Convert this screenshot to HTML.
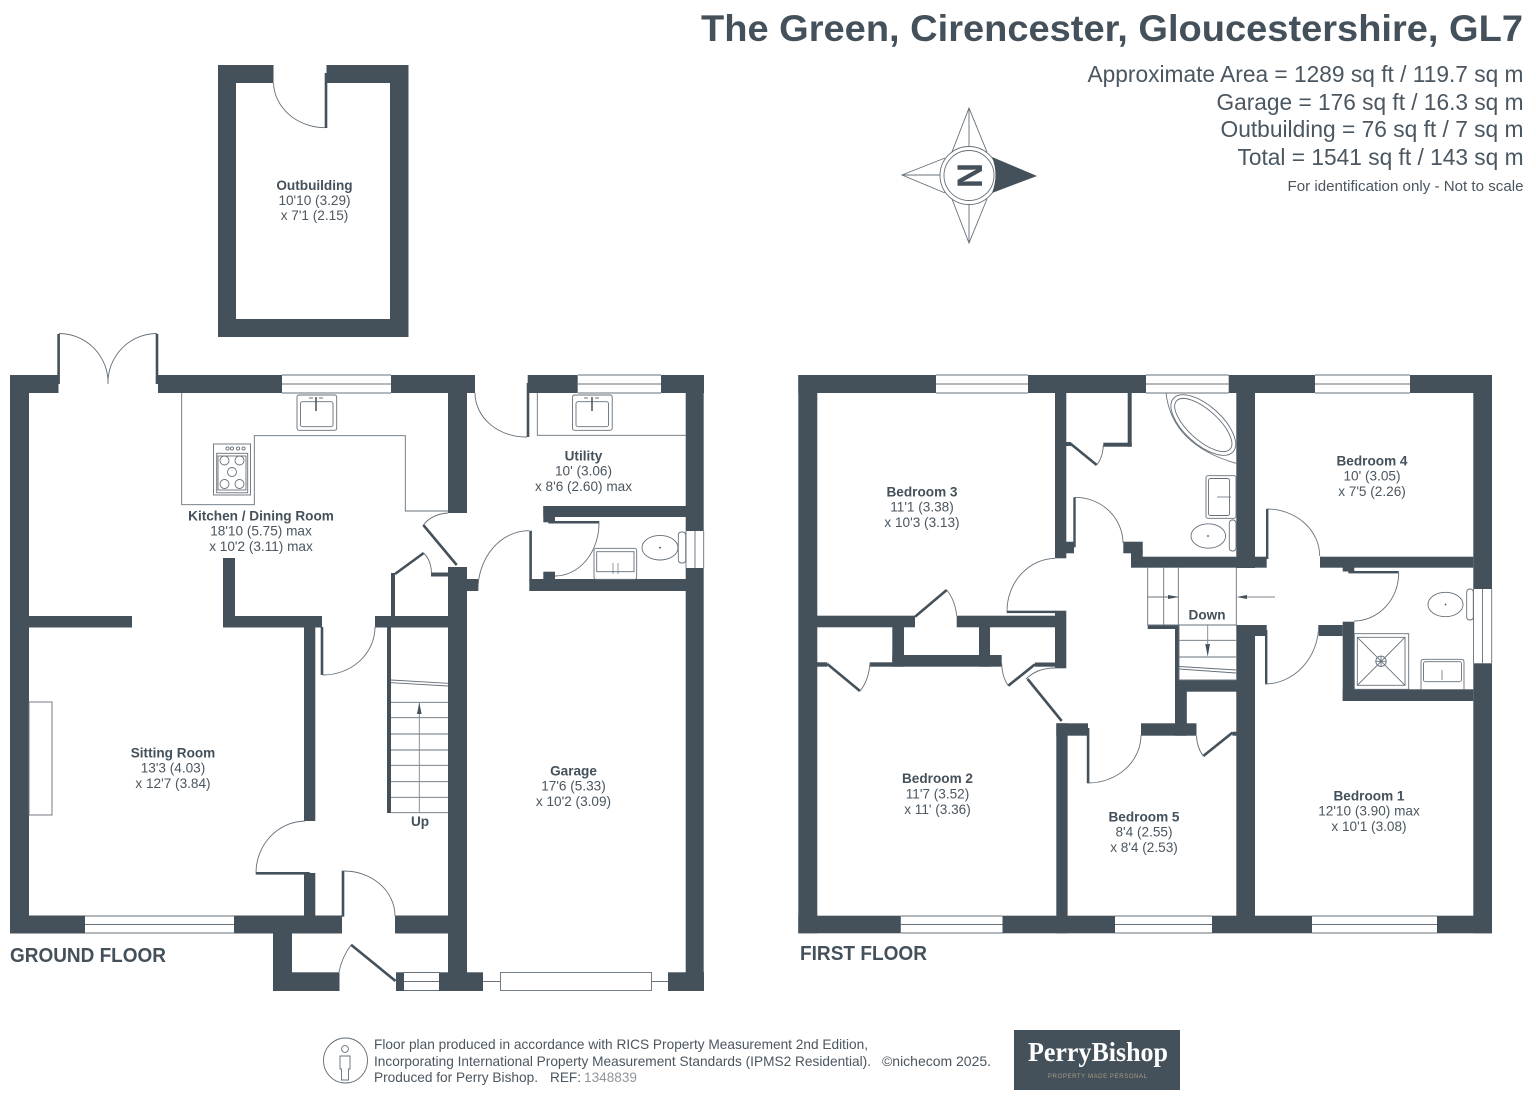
<!DOCTYPE html>
<html><head><meta charset="utf-8"><style>
html,body{margin:0;padding:0;background:#fff}
svg{display:block}
text{font-family:"Liberation Sans",sans-serif;fill:#4a5660}
.w rect{fill:#44515b}
.t{fill:none;stroke:#66707a;stroke-width:.9}
.l{fill:none;stroke:#44515b;stroke-width:2.6}
.a{fill:none;stroke:#7d858c;stroke-width:.9}
.n text{text-anchor:middle;font-size:13.6px}
.n .b{font-weight:bold;fill:#44515b}
</style></head><body>
<svg width="1536" height="1104" viewBox="0 0 1536 1104" xmlns="http://www.w3.org/2000/svg">
<rect width="1536" height="1104" fill="#fff"/>

<!-- header -->
<text x="1523" y="41" text-anchor="end" font-size="37" font-weight="bold" textLength="822" lengthAdjust="spacingAndGlyphs" style="fill:#44515b">The Green, Cirencester, Gloucestershire, GL7</text>
<g font-size="23" text-anchor="end">
<text x="1523.5" y="82" textLength="436" lengthAdjust="spacingAndGlyphs">Approximate Area = 1289 sq ft / 119.7 sq m</text>
<text x="1523.5" y="110" textLength="307" lengthAdjust="spacingAndGlyphs">Garage = 176 sq ft / 16.3 sq m</text>
<text x="1523.5" y="137" textLength="303" lengthAdjust="spacingAndGlyphs">Outbuilding = 76 sq ft / 7 sq m</text>
<text x="1523.5" y="165" textLength="286" lengthAdjust="spacingAndGlyphs">Total = 1541 sq ft / 143 sq m</text>
</g>
<text x="1523.5" y="191" text-anchor="end" font-size="14.5" textLength="236" lengthAdjust="spacingAndGlyphs">For identification only - Not to scale</text>

<!-- compass -->
<g class="t">
<path d="M952 152 969 108 987 152M952 199 969 243 987 199M945 158 902 175 945 193M969 108V146M969 205V243M902 175H940"/>
<circle cx="969" cy="175.5" r="29"/><circle cx="969" cy="175.5" r="25"/>
</g>
<path d="M992 157 1037 176 992 193Q999 175 992 157Z" fill="#44515b"/>
<text transform="translate(957.5 175.5) rotate(90)" x="0" y="0" text-anchor="middle" font-size="35" font-weight="bold" style="fill:#44515b">N</text>

<!-- outbuilding -->
<g class="w">
<rect x="218" y="65" width="18" height="272"/><rect x="390" y="65" width="18.5" height="272"/>
<rect x="218" y="319" width="190" height="18"/><rect x="218" y="65" width="55.5" height="18"/><rect x="326.5" y="65" width="82" height="18"/>
<rect x="324.7" y="73" width="2.6" height="55"/>
</g>
<path class="t" d="M273.5 83A52 46 0 0 0 325 127.7"/>

<!-- ground floor walls -->
<g class="w">
<rect x="10" y="375" width="48.5" height="18"/><rect x="10" y="375" width="19" height="558"/>
<rect x="10" y="915.5" width="75" height="18"/><rect x="234" y="915.5" width="108" height="18"/><rect x="395" y="915.5" width="53" height="18"/>
<rect x="158" y="375" width="124" height="18"/><rect x="391" y="375" width="84" height="18"/>
<rect x="448" y="375" width="19" height="138"/><rect x="448" y="567" width="19" height="424"/>
<rect x="29" y="616" width="103" height="11.5"/><rect x="223" y="616" width="99" height="11.5"/><rect x="223" y="558" width="12" height="69"/>
<rect x="304" y="616" width="11.3" height="205"/><rect x="304" y="873" width="11.3" height="43"/>
<rect x="375" y="616" width="73" height="11.5"/>
<rect x="391" y="573" width="4" height="43"/><rect x="431" y="572.5" width="17" height="4"/><rect x="387" y="627" width="4" height="186"/>
<rect x="273" y="933" width="19" height="58"/><rect x="273" y="972.3" width="66.5" height="18.7"/>
<rect x="396" y="972.3" width="8" height="18.7"/><rect x="439" y="972.3" width="44" height="18.7"/>
<rect x="668" y="972.3" width="36" height="18.7"/><rect x="685.7" y="375" width="18" height="156"/><rect x="685.7" y="568" width="18" height="423"/>
<rect x="527.7" y="375" width="50" height="18"/><rect x="661" y="375" width="43" height="18"/>
<rect x="543.3" y="506" width="143" height="11"/><rect x="543.3" y="506" width="11.7" height="16.3"/><rect x="543.3" y="571.7" width="11.7" height="10"/>
<rect x="529.3" y="579" width="157" height="12"/><rect x="466.7" y="579" width="11.6" height="12"/>
<!-- door leaves -->
<rect x="57.3" y="334" width="2.6" height="50"/><rect x="155.7" y="334" width="2.6" height="50"/>
<rect x="255.7" y="872" width="54" height="2.6"/><rect x="341.7" y="870.7" width="2.6" height="46"/>
<rect x="320.7" y="627" width="2.6" height="48"/><rect x="526.7" y="383" width="2.6" height="54"/>
<rect x="529.3" y="530.7" width="2.6" height="50"/><rect x="548.3" y="521" width="51" height="2.5"/>
</g>
<g class="l"><path d="M423.3 525 456.7 565M395 574 423.7 553M351 944.7 395.5 981"/></g>
<g class="t">
<path d="M59 333.5A49 49 0 0 1 108 384M157 333.5A49 49 0 0 0 108 384"/>
<path d="M448 513Q432 514 423.3 525M423.7 553Q431 560 431.5 573"/>
<path d="M256 873A50 52 0 0 1 305 821M344 871A51 45 0 0 1 395 916M339 972Q342 957 351 945"/>
<path d="M323 675A52 48 0 0 0 375 627M475 393A51 44 0 0 0 527 437M529 530.7A51 59 0 0 0 478 590M599 523A44 53 0 0 1 555 576"/>
<!-- windows -->
<path d="M282 375H391M282 384H391M282 393H391M578 375H661M578 384H661M578 393H661"/>
<path d="M85 916H234M85 924.5H234M85 933H234"/>
<path d="M404 972.5H439M404 981.5H439M404 990.5H439M483 981.5H500M651.5 981.5H668"/>
<rect x="500.5" y="972.5" width="151" height="18"/>
<path d="M686 531V568M695 531V568M703.7 531V568"/>
<!-- counters -->
<path d="M181.7 393V504.7H254.3V435.7H405.3V511H448M537.3 393V435.3H685.7"/>
<rect x="29" y="702" width="23" height="113"/>
<!-- stairs -->
<path d="M391 702.3H448M391 717.7H448M391 734H448M391 750H448M391 765.3H448M391 781.7H448M391 797.3H448M391 812.7H448M391 680 448 683.3M391 682.7 448 686"/>
<!-- sink, cooker -->
<rect x="297" y="395" width="39.7" height="35.3" rx="2"/><rect x="300.5" y="401.7" width="32.5" height="25" rx="2"/>
<rect x="572.5" y="395" width="39.7" height="35.3" rx="2"/><rect x="576" y="401.7" width="32.5" height="25" rx="2"/>
<rect x="213.5" y="444" width="37" height="51"/><rect x="216.7" y="453.3" width="31" height="39.5"/><rect x="218" y="456" width="28" height="34"/>
<circle cx="224.5" cy="460.5" r="4.5"/><circle cx="239.5" cy="460.5" r="4.5"/><circle cx="232" cy="472" r="4.5"/><circle cx="224.5" cy="484" r="4.5"/><circle cx="239.5" cy="484" r="4.5"/>
<circle cx="227.5" cy="448.5" r="1.6"/><circle cx="232" cy="448.5" r="1.6"/><circle cx="238" cy="448.5" r="1.6"/><circle cx="243.5" cy="448.5" r="1.6"/>
<!-- wc -->
<ellipse cx="660" cy="547.7" rx="18" ry="12.3"/><rect x="678.3" y="532" width="7.4" height="31" rx="3"/>
<rect x="594" y="548.3" width="42.7" height="31" rx="2"/><rect x="596.7" y="551.7" width="37.3" height="20"/>
<path d="M613 563V574M618 563V574" stroke-width=".7"/>
</g>
<path d="M316 397V411M592 397V411" stroke="#44515b" stroke-width="1.5"/>
<path d="M309 398H313M319 398H323M584 398H588M595 398H599" stroke="#66707a" stroke-width="1"/>
<path d="M419.3 812.7V703" class="a"/>
<path d="M419.3 702.5 417 714H421.6Z" fill="#44515b"/>

<!-- first floor walls -->
<g class="w">
<rect x="798.3" y="375" width="137.7" height="18"/><rect x="1028" y="375" width="118" height="18"/><rect x="1228.7" y="375" width="86.3" height="18"/><rect x="1410" y="375" width="82" height="18"/>
<rect x="798.3" y="375" width="19" height="558.3"/><rect x="1473.3" y="375" width="18.7" height="214"/><rect x="1473.3" y="663.3" width="18.7" height="270"/>
<rect x="798.3" y="915.7" width="102.5" height="17.6"/><rect x="1002.5" y="915.7" width="112.5" height="17.6"/><rect x="1212" y="915.7" width="100" height="17.6"/><rect x="1437" y="915.7" width="55" height="17.6"/>
<rect x="1055" y="375" width="11.3" height="183.3"/><rect x="1066" y="541.7" width="8" height="11.6"/>
<rect x="1123.3" y="541.7" width="19.4" height="11.6"/><rect x="1131" y="550" width="11.7" height="8"/>
<rect x="1131" y="556.7" width="135.7" height="11"/><rect x="1236.3" y="375" width="18.7" height="193"/>
<rect x="1320" y="556.7" width="153.3" height="11"/><rect x="1342.7" y="567" width="11.6" height="4.5"/>
<rect x="1147.7" y="625" width="31" height="4"/><rect x="1175" y="625" width="4" height="66"/><rect x="1175" y="680" width="11.7" height="55.7"/>
<rect x="1175" y="680" width="65" height="11.7"/><rect x="1236.3" y="625" width="18.7" height="308"/>
<rect x="1255" y="625" width="11.7" height="11"/><rect x="1318.7" y="625" width="24" height="11"/>
<rect x="1342.7" y="621.7" width="11.6" height="79.3"/><rect x="1342.7" y="689.3" width="130.6" height="11.7"/>
<rect x="817" y="615.7" width="98" height="11.6"/><rect x="956.7" y="615.7" width="109.3" height="11.6"/>
<rect x="1055" y="610.7" width="11.3" height="57.6"/><rect x="892.3" y="627" width="11.7" height="39.7"/><rect x="892.3" y="655" width="109.4" height="11.7"/><rect x="979" y="627" width="11" height="39.7"/>
<rect x="817" y="662.3" width="10.3" height="4.4"/><rect x="870" y="662.3" width="23.3" height="4.4"/><rect x="1035" y="662.5" width="20" height="4.2"/>
<rect x="1056.3" y="723.3" width="11.3" height="210"/><rect x="1056.3" y="723.3" width="31.7" height="12.4"/><rect x="1141" y="723.3" width="55.5" height="12.4"/>
<rect x="1175" y="691" width="11.7" height="40"/><rect x="1232.4" y="731.7" width="5" height="4"/>
<rect x="1127.7" y="393" width="4" height="53.7"/><rect x="1103.3" y="442.7" width="28.4" height="4"/><rect x="1066" y="442" width="5" height="4"/>
<!-- leaves -->
<rect x="1006.7" y="610.7" width="50" height="2.4"/><rect x="1073.3" y="497.3" width="2.4" height="50"/>
<rect x="1086.8" y="728" width="2.6" height="55.3"/><rect x="1266" y="509" width="2.4" height="50"/><rect x="1265" y="630" width="2.4" height="54.3"/><rect x="1348.3" y="571" width="50.4" height="2.4"/>
</g>
<g class="l"><path d="M915 616.7 946.7 590M827.3 664 860 691M1008.3 685.7 1035 664.3M1027.6 679 1061.7 721M1232.4 732.7 1203.3 756M1070 443.3 1096.7 465"/></g>
<g class="t">
<path d="M946.7 590Q955 600 956.7 615.7M860 691Q869 680 870 662.7M1001.7 663.3Q1002 677 1008.3 685.7M1055 668Q1037 668 1026 679M1196.5 735.7Q1197 748 1203.3 756M1096.7 465Q1103 457 1103.3 445"/>
<path d="M1007 611A49 53 0 0 1 1055 558.3M1075 497.3A48 46 0 0 1 1123 543M1088 783A53 48 0 0 0 1141 735M1267 509A53 47 0 0 1 1319.7 556M1265 684A54 59 0 0 0 1318.7 625M1398.7 573A45 48 0 0 1 1354 621"/>
<!-- windows -->
<path d="M936 375H1028M936 384H1028M936 393H1028M1146 375H1228.7M1146 384H1228.7M1146 393H1228.7M1315 375H1410M1315 384H1410M1315 393H1410"/>
<path d="M901 916H1002.5M901 924.5H1002.5M901 933H1002.5M1115 916H1212M1115 924.5H1212M1115 933H1212M1312 916H1437M1312 924.5H1437M1312 933H1437"/>
<path d="M1473.5 589V663.3M1482.5 589V663.3M1491.7 589V663.3"/>
<!-- stairs -->
<path d="M1147.7 567.7V625H1236.3V567.7M1163.7 567.7V625M1178.3 567.7V625M1147.7 597H1178M1179 625V680H1236M1179 640.3H1236M1179 657H1236M1179 666.5 1236 670M1179 669 1236 673"/>
<!-- bath -->
<path d="M1166 393Q1172 445 1236 463.3"/>
<ellipse cx="1203.3" cy="425" rx="40" ry="19" transform="rotate(42 1203.3 425)"/>
<ellipse cx="1203.3" cy="425" rx="36" ry="15" transform="rotate(42 1203.3 425)"/>
<rect x="1206" y="475.7" width="30" height="42.6" rx="2"/><rect x="1208.5" y="478.5" width="21" height="37" rx="2"/>
<path d="M1217 497H1231" stroke-width=".8"/>
<ellipse cx="1208.3" cy="536" rx="17.3" ry="12.2"/><rect x="1229.3" y="520" width="6.7" height="31" rx="3"/>
<!-- ensuite -->
<ellipse cx="1445.5" cy="604.5" rx="17.5" ry="12.2"/><rect x="1466.7" y="589" width="6.6" height="31" rx="3"/>
<rect x="1354.3" y="633.7" width="54.4" height="55.6"/><rect x="1357.3" y="637.3" width="47.7" height="48"/>
<path d="M1357.3 637.3 1405 685.3M1405 637.3 1357.3 685.3"/><circle cx="1381" cy="661.3" r="5.2"/>
<path d="M1381 656V666.5M1376 661.3H1386"/>
<path d="M1421 689.3V662q0-2.7 2.7-2.7h37.6q2.7 0 2.7 2.7V689.3"/><rect x="1423.5" y="661.7" width="38" height="20" rx="2"/>
<path d="M1442 670V680" stroke-width=".8"/>
</g>
<g fill="#44515b">
<path d="M1179 597 1168 595V599ZM1236.7 597 1247 595V599ZM1207.7 656.7 1205.3 644H1210Z"/>
<circle cx="1208" cy="536" r=".9"/><circle cx="1445.5" cy="604.5" r=".9"/><circle cx="660" cy="547.7" r=".9"/>
</g>
<path d="M1247 597H1275M1207.7 625V645" class="a"/>

<!-- labels -->
<g class="n">
<text class="b" x="314.5" y="190">Outbuilding</text><text x="314.5" y="205">10'10 (3.29)</text><text x="314.5" y="220">x 7'1 (2.15)</text>
<text class="b" x="261" y="520.5">Kitchen / Dining Room</text><text x="261" y="535.5">18'10 (5.75) max</text><text x="261" y="551">x 10'2 (3.11) max</text>
<text class="b" x="173" y="757.5">Sitting Room</text><text x="173" y="772.5">13'3 (4.03)</text><text x="173" y="788">x 12'7 (3.84)</text>
<text class="b" x="583.5" y="460.5">Utility</text><text x="583.5" y="475.5">10' (3.06)</text><text x="583.5" y="491">x 8'6 (2.60) max</text>
<text class="b" x="573.5" y="775.5">Garage</text><text x="573.5" y="790.5">17'6 (5.33)</text><text x="573.5" y="806">x 10'2 (3.09)</text>
<text class="b" x="922" y="496.5">Bedroom 3</text><text x="922" y="511.5">11'1 (3.38)</text><text x="922" y="527">x 10'3 (3.13)</text>
<text class="b" x="1372" y="465.5">Bedroom 4</text><text x="1372" y="480.5">10' (3.05)</text><text x="1372" y="496">x 7'5 (2.26)</text>
<text class="b" x="937.5" y="783">Bedroom 2</text><text x="937.5" y="798.5">11'7 (3.52)</text><text x="937.5" y="814">x 11' (3.36)</text>
<text class="b" x="1144" y="821.5">Bedroom 5</text><text x="1144" y="836.5">8'4 (2.55)</text><text x="1144" y="852">x 8'4 (2.53)</text>
<text class="b" x="1369" y="800.5">Bedroom 1</text><text x="1369" y="815.5">12'10 (3.90) max</text><text x="1369" y="831">x 10'1 (3.08)</text>
<text class="b" x="420" y="826">Up</text><text class="b" x="1207" y="619.5">Down</text>
</g>
<text x="10" y="962" font-size="20" font-weight="bold" textLength="156" lengthAdjust="spacingAndGlyphs" style="fill:#44515b">GROUND FLOOR</text>
<text x="800" y="960" font-size="20" font-weight="bold" textLength="127" lengthAdjust="spacingAndGlyphs" style="fill:#44515b">FIRST FLOOR</text>

<!-- footer -->
<g class="t"><ellipse cx="345.5" cy="1060.5" rx="22" ry="22.5"/><circle cx="345" cy="1049" r="3.4"/><path d="M340 1056h10v13h-1.5v11h-7v-11H340z"/></g>
<g font-size="14">
<text x="374" y="1049" textLength="494" lengthAdjust="spacingAndGlyphs">Floor plan produced in accordance with RICS Property Measurement 2nd Edition,</text>
<text x="374" y="1066" textLength="497" lengthAdjust="spacingAndGlyphs">Incorporating International Property Measurement Standards (IPMS2 Residential).</text>
<text x="374" y="1082" textLength="164" lengthAdjust="spacingAndGlyphs">Produced for Perry Bishop.</text>
<text x="550" y="1082" textLength="31" lengthAdjust="spacingAndGlyphs">REF:</text>
<text x="584" y="1082" textLength="53" lengthAdjust="spacingAndGlyphs" style="fill:#8f969c">1348839</text>
<text x="882" y="1066" textLength="109" lengthAdjust="spacingAndGlyphs">©nichecom 2025.</text>
</g>
<rect x="1014" y="1030" width="166" height="60" fill="#44515b"/>
<text x="1098" y="1061" text-anchor="middle" font-size="27" font-weight="bold" textLength="140" lengthAdjust="spacingAndGlyphs" style="fill:#fff;font-family:'Liberation Serif',serif">PerryBishop</text>
<text x="1097.5" y="1078" text-anchor="middle" font-size="6" textLength="99" lengthAdjust="spacing" style="fill:#a89c82">PROPERTY MADE PERSONAL</text>
</svg>
</body></html>
